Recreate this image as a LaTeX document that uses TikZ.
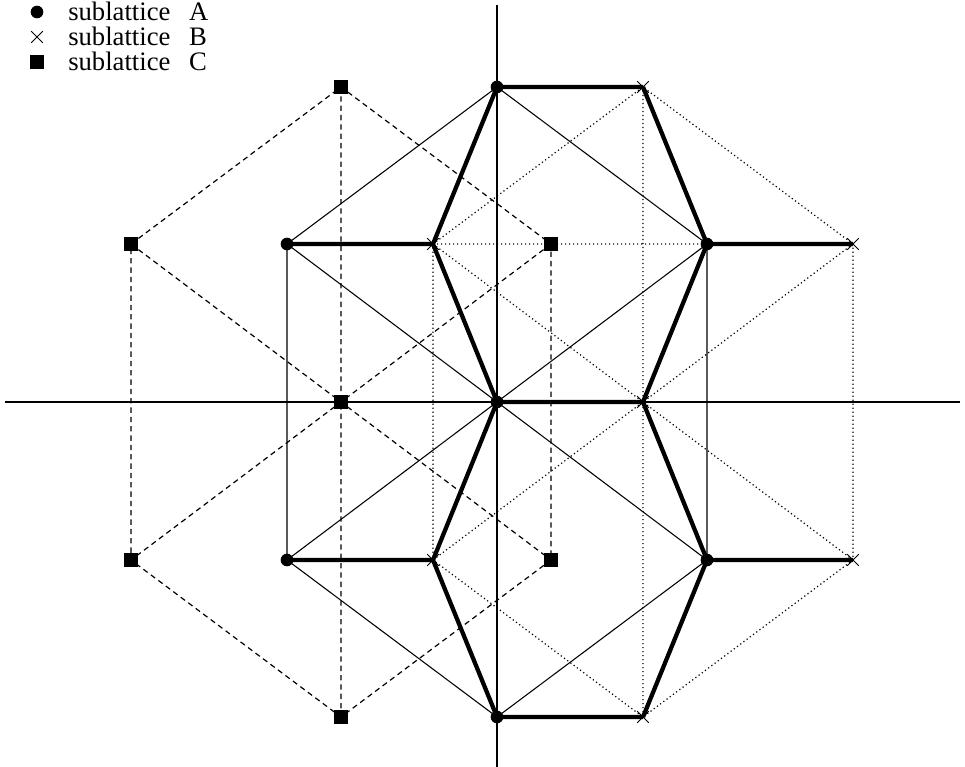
\documentclass[tikz,border=0pt]{standalone}
\usepackage{fontspec}
\setmainfont{Liberation Serif}
\usetikzlibrary{shapes.misc}
\begin{document}
\begin{tikzpicture}[x=0.75pt,y=-0.75pt,
  axis/.style={line width=0.9pt},
  latA/.style={line width=0.8pt},
  latB/.style={line width=0.9pt, dash pattern=on 0.9pt off 2.1pt},
  latC/.style={line width=0.9pt, dash pattern=on 4pt off 3pt},
  hexbond/.style={line width=3.2pt},
  siteA/.style={circle, fill, inner sep=0pt, minimum size=9.5pt},
  siteB/.style={cross out, draw, line width=0.75pt, inner sep=0pt, minimum size=8pt},
  siteC/.style={rectangle, fill, inner sep=0pt, minimum size=10.5pt},
  legend/.style={anchor=base west, font=\fontsize{20}{24}\selectfont, inner sep=0pt}
]
\useasboundingbox (0,0) rectangle (965,767);

% lattice sites: 1 top, 2 upper left, 3 upper right, 4 centre,
% 5 lower left, 6 lower right, 7 bottom
\foreach \s/\dx in {A/0, B/146, C/-156} {
  \coordinate (\s1) at (497+\dx,87);
  \coordinate (\s2) at (287+\dx,244);
  \coordinate (\s3) at (707+\dx,244);
  \coordinate (\s4) at (497+\dx,402);
  \coordinate (\s5) at (287+\dx,560);
  \coordinate (\s6) at (707+\dx,560);
  \coordinate (\s7) at (497+\dx,717);
}

% axes
\coordinate (xl) at (5,402);
\coordinate (xr) at (960,402);
\coordinate (yt) at (497,5);
\coordinate (yb) at (497,767);
\draw[axis] (xl) -- (xr);
\draw[axis] (yt) -- (yb);

% triangular sublattices
\draw[latA] (A2) -- (A1) -- (A3) -- (A6) -- (A7) -- (A5) -- cycle;
\draw[latA] (A2) -- (A6) (A3) -- (A5);
\draw[latB] (B2) -- (B1) -- (B3) -- (B6) -- (B7) -- (B5) -- cycle;
\draw[latB] (B2) -- (B6) (B3) -- (B5) (B1) -- (B7) (B2) -- (A3);
\draw[latC] (C2) -- (C1) -- (C3) -- (C6) -- (C7) -- (C5) -- cycle;
\draw[latC] (C2) -- (C6) (C3) -- (C5) (C1) -- (C7);

% honeycomb bonds between A and B
\draw[hexbond] (A1) -- (B1) (A1) -- (B2) (B1) -- (A3)
  (A2) -- (B2) (A3) -- (B3) (B2) -- (A4) (A3) -- (B4) (A4) -- (B4)
  (A4) -- (B5) (B4) -- (A6) (A5) -- (B5) (A6) -- (B6)
  (B5) -- (A7) (A6) -- (B7) (A7) -- (B7);

% site markers
\foreach \i in {1,...,7} {
  \node[siteA] (mA\i) at (A\i) {};
  \node[siteB] (mB\i) at (B\i) {};
  \node[siteC] (mC\i) at (C\i) {};
}

% legend
\node[siteA] (kA) at (37,12) {};
\node[siteB] (kB) at (37,37) {};
\node[siteC] (kC) at (37,62) {};
\node[legend] (tA) at (68,21) {sublattice\hspace{0.7em}A};
\node[legend] (tB) at (68,46) {sublattice\hspace{0.7em}B};
\node[legend] (tC) at (68,71) {sublattice\hspace{0.7em}C};
\end{tikzpicture}
\end{document}
